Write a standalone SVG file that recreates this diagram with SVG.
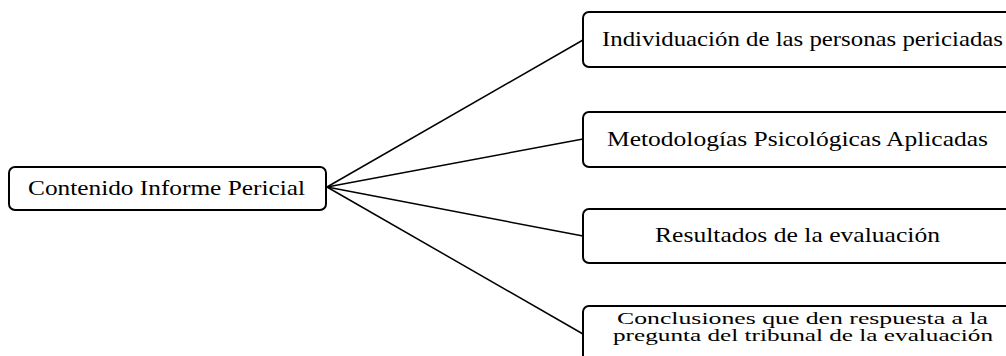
<svg xmlns="http://www.w3.org/2000/svg" width="1006" height="356" viewBox="0 0 1006 356">
  <style>
    .box { fill: #ffffff; stroke: #000000; stroke-width: 2; }
    .link { fill: none; stroke: #000000; stroke-width: 1.5; }
    .label { font-family: "Liberation Serif", "Times New Roman", serif; font-size: 22px; fill: #000000; }
    .small { font-size: 17px; }
  </style>
  <rect width="1006" height="356" fill="#ffffff"/>

  <!-- connectors from the root node to each child -->
  <g id="connectors">
    <line class="link" x1="327" y1="187" x2="583" y2="40"/>
    <line class="link" x1="327" y1="187" x2="583" y2="139"/>
    <line class="link" x1="327" y1="187" x2="583" y2="236"/>
    <line class="link" x1="327" y1="187" x2="583" y2="334"/>
  </g>

  <g id="root">
    <rect class="box" x="9" y="167" width="317" height="43" rx="6"/>
    <text class="label" x="28" y="195" textLength="277" lengthAdjust="spacingAndGlyphs">Contenido Informe Pericial</text>
  </g>

  <g id="individuacion">
    <rect class="box" x="583" y="12" width="440" height="55" rx="6"/>
    <text class="label" x="602" y="46" textLength="401" lengthAdjust="spacingAndGlyphs">Individuación de las personas periciadas</text>
  </g>

  <g id="metodologias">
    <rect class="box" x="583" y="112" width="440" height="55" rx="6"/>
    <text class="label" x="607" y="146" textLength="381" lengthAdjust="spacingAndGlyphs">Metodologías Psicológicas Aplicadas</text>
  </g>

  <g id="resultados">
    <rect class="box" x="583" y="209" width="440" height="54" rx="6"/>
    <text class="label" x="655" y="242" textLength="285" lengthAdjust="spacingAndGlyphs">Resultados de la evaluación</text>
  </g>

  <g id="conclusiones">
    <rect class="box" x="583" y="306" width="440" height="60" rx="6"/>
    <text class="label small" x="617" y="324" textLength="371" lengthAdjust="spacingAndGlyphs">Conclusiones que den respuesta a la</text>
    <text class="label small" x="613" y="341" textLength="380" lengthAdjust="spacingAndGlyphs">pregunta del tribunal de la evaluación</text>
  </g>
</svg>
